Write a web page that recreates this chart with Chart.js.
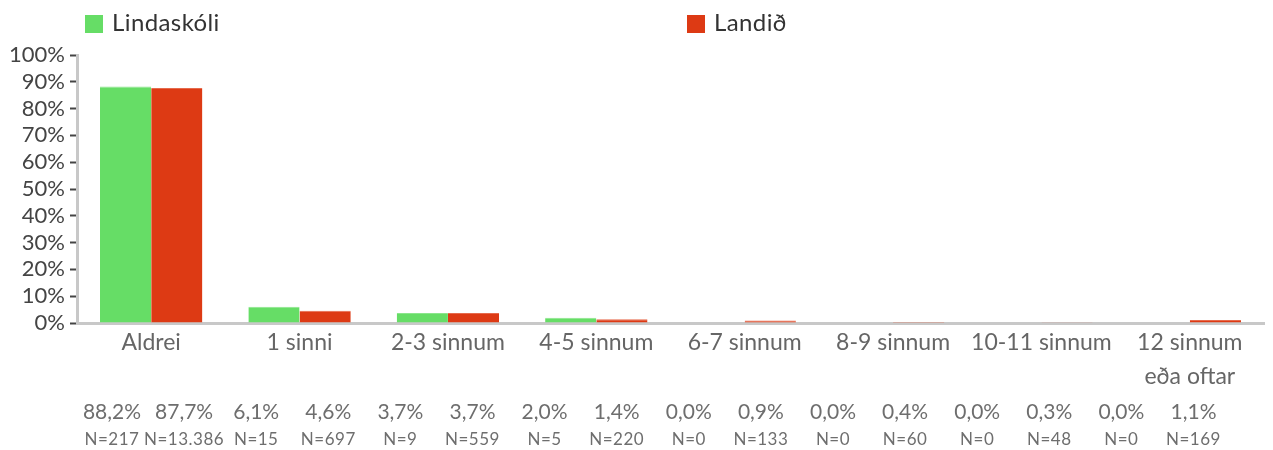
<!DOCTYPE html>
<html>
<head>
<meta charset="utf-8">
<script src="https://cdn.jsdelivr.net/npm/chart.js@4"></script>
<style>
  html, body { margin: 0; padding: 0; background: #fff; }
  #wrap { position: relative; width: 1273px; height: 450px; font-family: Lato, sans-serif; }
  #chart { position: absolute; left: 0; top: 0; }
  .legend-item { position: absolute; top: 7px; font-size: 24px; color: #333; line-height: 30px; letter-spacing: 0.4px; }
  .legend-item span { display: inline-block; width: 18px; height: 18px; margin-right: 9px; vertical-align: -2px; }
  .cell { position: absolute; width: 90px; margin-left: -45px; text-align: center; color: #6e6e6e; white-space: nowrap; }
  .pct { top: 398px; font-size: 21px; line-height: 26px; }
  .num { top: 428px; font-size: 17px; line-height: 22px; letter-spacing: 0.5px; }
</style>
</head>
<body>
<div id="wrap">
  <canvas id="chart" width="1273" height="450"></canvas>
  <div class="legend-item" style="left:85px"><span style="background:#66dd66"></span>Lindaskóli</div>
  <div class="legend-item" style="left:687px"><span style="background:#dd3a14"></span>Landið</div>
  <div id="table"></div>
</div>
<script>
const categories = ['Aldrei', '1 sinni', '2-3 sinnum', '4-5 sinnum', '6-7 sinnum', '8-9 sinnum', '10-11 sinnum', ['12 sinnum', 'eða oftar']];
const schoolPct = [88.2, 6.1, 3.7, 2.0, 0.0, 0.0, 0.0, 0.0];
const nationPct = [87.7, 4.6, 3.7, 1.4, 0.9, 0.4, 0.3, 1.1];
const schoolN = [217, 15, 9, 5, 0, 0, 0, 0];
const nationN = [13386, 697, 559, 220, 133, 60, 48, 169];
const yTicks = [0, 10, 20, 30, 40, 50, 60, 70, 80, 90, 100];

const fmtPct = v => v.toFixed(1).replace('.', ',') + '%';
const fmtN = v => 'N=' + v.toLocaleString('de-DE');

// value table under the chart: school / nation pairs per category
const table = document.getElementById('table');
categories.forEach((c, i) => {
    [[schoolPct[i], schoolN[i]], [nationPct[i], nationN[i]]].forEach(([p, n], j) => {
        const x = 112 + (i * 2 + j) * 72.1;
        const a = document.createElement('div');
        a.className = 'cell pct';
        a.style.left = x + 'px';
        a.textContent = fmtPct(p);
        const b = document.createElement('div');
        b.className = 'cell num';
        b.style.left = x + 'px';
        b.textContent = fmtN(n);
        table.appendChild(a);
        table.appendChild(b);
    });
});

new Chart(document.getElementById('chart'), {
    type: 'bar',
    data: {
        labels: categories,
        datasets: [
            { label: 'Lindaskóli', data: schoolPct, backgroundColor: '#66dd66', borderColor: '#8be68b', borderWidth: { top: 1 }, categoryPercentage: 0.69, barPercentage: 1 },
            { label: 'Landið', data: nationPct, backgroundColor: '#dd3a14', borderColor: '#e66a4c', borderWidth: { top: 1 }, categoryPercentage: 0.69, barPercentage: 1 }
        ]
    },
    options: {
        responsive: false,
        animation: false,
        layout: { padding: { top: 55, right: 9, left: 0, bottom: 0 } },
        plugins: { legend: { display: false }, tooltip: { enabled: false } },
        scales: {
            x: {
                grid: { display: false },
                border: { color: '#c8c8c8', width: 3 },
                ticks: { color: '#666', padding: -5, maxRotation: 0, autoSkip: false, font: { family: 'Lato', size: 23, lineHeight: 1.48 } },
                afterFit: axis => { axis.height = 127; }
            },
            y: {
                min: 0, max: 100,
                afterBuildTicks: axis => { axis.ticks = yTicks.map(v => ({ value: v })); },
                grid: { drawOnChartArea: false, tickLength: 7, tickColor: '#444', tickWidth: 2 },
                border: { color: '#c8c8c8', width: 3 },
                ticks: { color: '#444', padding: 5, autoSkip: false, font: { family: 'Lato', size: 22 }, callback: v => v + '%' },
                afterFit: axis => { axis.width = 77; }
            }
        }
    }
});
</script>
</body>
</html>
